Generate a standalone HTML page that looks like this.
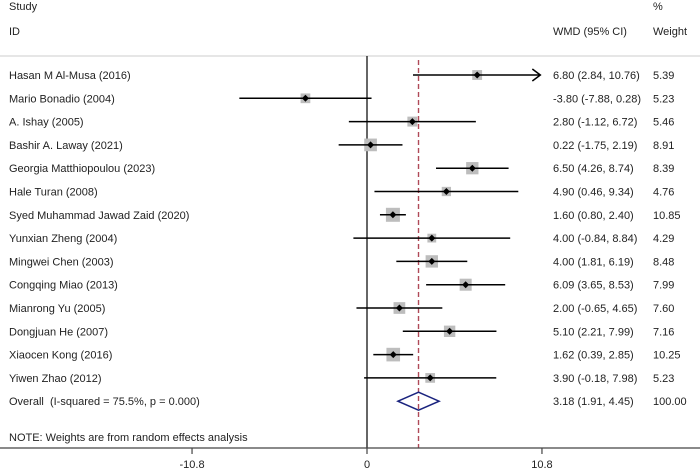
<!DOCTYPE html>
<html><head><meta charset="utf-8"><style>
body{margin:0;background:#fff;}
svg text{font-family:"Liberation Sans",Arial,sans-serif;font-size:11px;fill:#222;}
</style></head><body>
<svg width="700" height="471" xmlns="http://www.w3.org/2000/svg">
<text x="9" y="10">Study</text>
<text x="9" y="35">ID</text>
<text x="553" y="35">WMD (95% CI)</text>
<text x="653" y="10">%</text>
<text x="653" y="35">Weight</text>
<line x1="0" y1="56" x2="700" y2="56" stroke="#ccc"/>
<g id="plot"></g>
<text x="9" y="441">NOTE: Weights are from random effects analysis</text>
<line x1="0" y1="448" x2="700" y2="448" stroke="#444" stroke-width="1.2"/>
<g id="ticks"></g>
</svg>
<script>
const studies=["Hasan M Al-Musa (2016)","Mario Bonadio (2004)","A. Ishay (2005)","Bashir A. Laway (2021)","Georgia Matthiopoulou (2023)","Hale Turan (2008)","Syed Muhammad Jawad Zaid (2020)","Yunxian Zheng (2004)","Mingwei Chen (2003)","Congqing Miao (2013)","Mianrong Yu (2005)","Dongjuan He (2007)","Xiaocen Kong (2016)","Yiwen Zhao (2012)"];
const est=[6.80,-3.80,2.80,0.22,6.50,4.90,1.60,4.00,4.00,6.09,2.00,5.10,1.62,3.90];
const lo=[2.84,-7.88,-1.12,-1.75,4.26,0.46,0.80,-0.84,1.81,3.65,-0.65,2.21,0.39,-0.18];
const hi=[10.76,0.28,6.72,2.19,8.74,9.34,2.40,8.84,6.19,8.53,4.65,7.99,2.85,7.98];
const weights=[5.39,5.23,5.46,8.91,8.39,4.76,10.85,4.29,8.48,7.99,7.60,7.16,10.25,5.23];
const overall=[3.18,1.91,4.45];
const overallWeight="100.00";
const ticks=[-10.8,0,10.8];
const NS="http://www.w3.org/2000/svg";
const x=v=>367+v*16.2;
const y=i=>75+i*23.3;
const g=document.getElementById('plot');
function mk(t,a,p){const e=document.createElementNS(NS,t);for(const k in a)e.setAttribute(k,a[k]);(p||g).appendChild(e);return e;}
const f=v=>v.toFixed(2);
const xmax=10.8;
let e=mk('line',{x1:x(0),y1:56,x2:x(0),y2:448,stroke:'#000','stroke-width':1.2});


e=mk('line',{x1:x(overall[0]),y1:60,x2:x(overall[0]),y2:448,stroke:'#b04a58','stroke-width':1.4,'stroke-dasharray':'5,3'});


studies.forEach((s,i)=>{
  const yy=y(i);
  let t=mk('text',{x:9,y:yy+4});t.textContent=s;
  
  
  const side=4.25*Math.sqrt(weights[i]);
  let b=mk('rect',{x:x(est[i])-side/2,y:yy-side/2,width:side,height:side,fill:'#bdbdbd'});
  
  
  const h=Math.min(hi[i],xmax-0.1);
  let l=mk('line',{x1:x(lo[i]),y1:yy,x2:x(h),y2:yy,stroke:'#000','stroke-width':1.5});
  
  
  if(hi[i]>xmax-0.2){
    let a=mk('polyline',{points:`${x(h)-8},${yy-6} ${x(h)},${yy} ${x(h)-8},${yy+6}`,fill:'none',stroke:'#000','stroke-width':1.5});
    
    
  }
  let d=mk('polygon',{points:`${x(est[i])-3.5},${yy} ${x(est[i])},${yy-3.5} ${x(est[i])+3.5},${yy} ${x(est[i])},${yy+3.5}`,fill:'#000'});
  
  
  t=mk('text',{x:553,y:yy+4});t.textContent=`${f(est[i])} (${f(lo[i])}, ${f(hi[i])})`;
  
  
  t=mk('text',{x:653,y:yy+4});t.textContent=f(weights[i]);
  
  
});
const oy=y(studies.length);
let t=mk('text',{x:9,y:oy+4});t.textContent="Overall\u00a0 (I-squared = 75.5%, p = 0.000)";


let dm=mk('polygon',{points:`${x(overall[1])},${oy} ${x(overall[0])},${oy-9} ${x(overall[2])},${oy} ${x(overall[0])},${oy+9}`,fill:'none',stroke:'#1a237e','stroke-width':1.5});


t=mk('text',{x:553,y:oy+4});t.textContent=`${f(overall[0])} (${f(overall[1])}, ${f(overall[2])})`;


t=mk('text',{x:653,y:oy+4});t.textContent=overallWeight;


const tg=document.getElementById('ticks');
ticks.forEach(v=>{
  let l=mk('line',{x1:x(v),y1:448,x2:x(v),y2:454,stroke:'#444','stroke-width':1.2},tg);
  
  
  let tt=mk('text',{x:x(v),y:468,'text-anchor':'middle'},tg);tt.textContent=String(v);
  
  
});
</script>
</body></html>
